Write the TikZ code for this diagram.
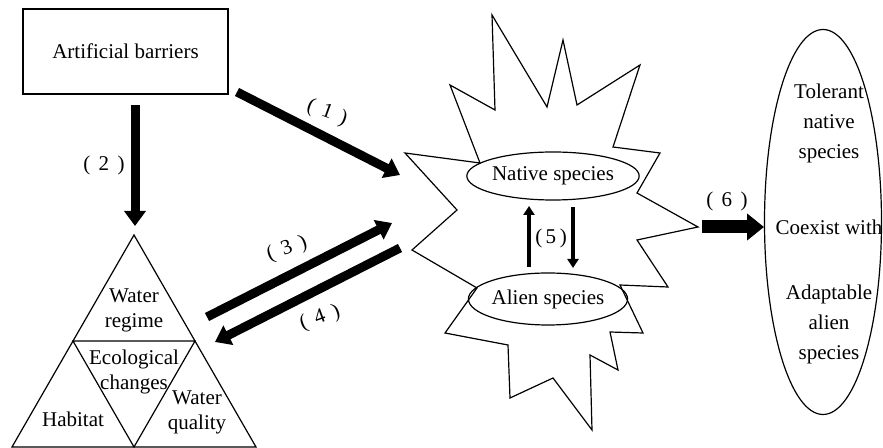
\documentclass[tikz,border=0pt]{standalone}
\usepackage{fontspec}
\setmainfont{Liberation Serif}
\usetikzlibrary{arrows.meta,shapes.geometric}
\newcommand{\lab}[1]{(\hspace{0.4em}#1\hspace{0.4em})}
\begin{document}
\begin{tikzpicture}[x=0.5pt,y=-0.5pt,
  txt/.style={font=\fontsize{10.5pt}{15pt}\selectfont, align=center, inner sep=0pt},
  tritxt/.style={font=\fontsize{10.5pt}{12.5pt}\selectfont, align=center, inner sep=0pt},
  outline/.style={draw=black, line width=0.6pt},
  bigarrow/.style={line width=4.5pt, -{Triangle[width=10.5pt,length=7.5pt]}},
  fatarrow/.style={line width=6.5pt, -{Triangle[width=13pt,length=8.5pt]}},
  thinarrow/.style={line width=2pt, -{Triangle[width=5.5pt,length=4.5pt]}},
  numlab/.style={inner sep=0pt, font=\fontsize{10.5pt}{12pt}\selectfont}]
\clip (0,0) rectangle (883,448);
\fill[white] (0,0) rectangle (883,448);

% box
\node[outline, txt, minimum width=102.5pt, minimum height=42.5pt] (barrier) at (125.5,51.5) {Artificial barriers};

% triangle
\draw[outline, line join=miter] (134,235) -- (12,447) -- (256,447) -- cycle;
\draw[outline] (73,341) -- (195,341) -- (134,447) -- cycle;
\node[tritxt] (regime) at (134,310) {Water\\regime};
\node[tritxt] (eco) at (134,372) {Ecological\\changes};
\node[tritxt] (habitat) at (73,419) {Habitat};
\node[tritxt] (quality) at (197,412) {Water\\quality};

% star
\draw[outline, line join=miter] (405,153) -- (480,163) -- (450,85) -- (495,110) -- (492,15) -- (547,107) -- (563,40) -- (577,105) -- (640,65) -- (613,147) -- (660,153) -- (637,193) -- (698,227) -- (637,240) -- (668,287) -- (620,285) -- (643,333) -- (610,332) -- (618,370) -- (590,355) -- (592,430) -- (553,378) -- (510,398) -- (508,345) -- (445,333) -- (477,288) -- (412,250) -- (457,210) -- cycle;

\node[outline, ellipse, txt, minimum width=68.5pt, minimum height=24pt] (native) at (553,176) {Native species};
\node[outline, ellipse, txt, minimum width=71.5pt, minimum height=26pt] (alien) at (548,299) {Alien species};

% big ellipse
\node[outline, ellipse, minimum width=58.5pt, minimum height=192.5pt] (result) at (823,222) {};
\node[txt] (tol) at (829,123) {Tolerant\\native\\species};
\node[txt] (coex) at (829,227) {Coexist with};
\node[txt] (adapt) at (829,324) {Adaptable\\alien\\species};

% coordinates for connectors
\coordinate (a1s) at (237,92);
\coordinate (a1e) at (400,175);
\coordinate (a2s) at (135,105);
\coordinate (a2e) at (135,226);
\coordinate (a3s) at (207,317);
\coordinate (a3e) at (392,223);
\coordinate (a4s) at (400,248);
\coordinate (a4e) at (215,342);
\coordinate (a5us) at (529,267);
\coordinate (a5ue) at (529,206);
\coordinate (a5ds) at (573,207);
\coordinate (a5de) at (573,268);
\coordinate (a6s) at (702,227);
\coordinate (a6e) at (764,227);

\draw[bigarrow] (a1s) -- (a1e);
\draw[bigarrow] (a2s) -- (a2e);
\draw[bigarrow] (a3s) -- (a3e);
\draw[bigarrow] (a4s) -- (a4e);
\draw[thinarrow] (a5us) -- (a5ue);
\draw[thinarrow] (a5ds) -- (a5de);
\draw[fatarrow] (a6s) -- (a6e);

% labels
\node[numlab, rotate=-20] (l1) at (327,113) {\lab{1}};
\node[numlab] (l2) at (104,165) {\lab{2}};
\node[numlab, rotate=20] (l3) at (287,249) {\lab{3}};
\node[numlab, rotate=20] (l4) at (320,318) {\lab{4}};
\node[numlab] (l5) at (551,238) {(\,5\,)};
\node[numlab] (l6) at (727,201) {\lab{6}};
\end{tikzpicture}
\end{document}
